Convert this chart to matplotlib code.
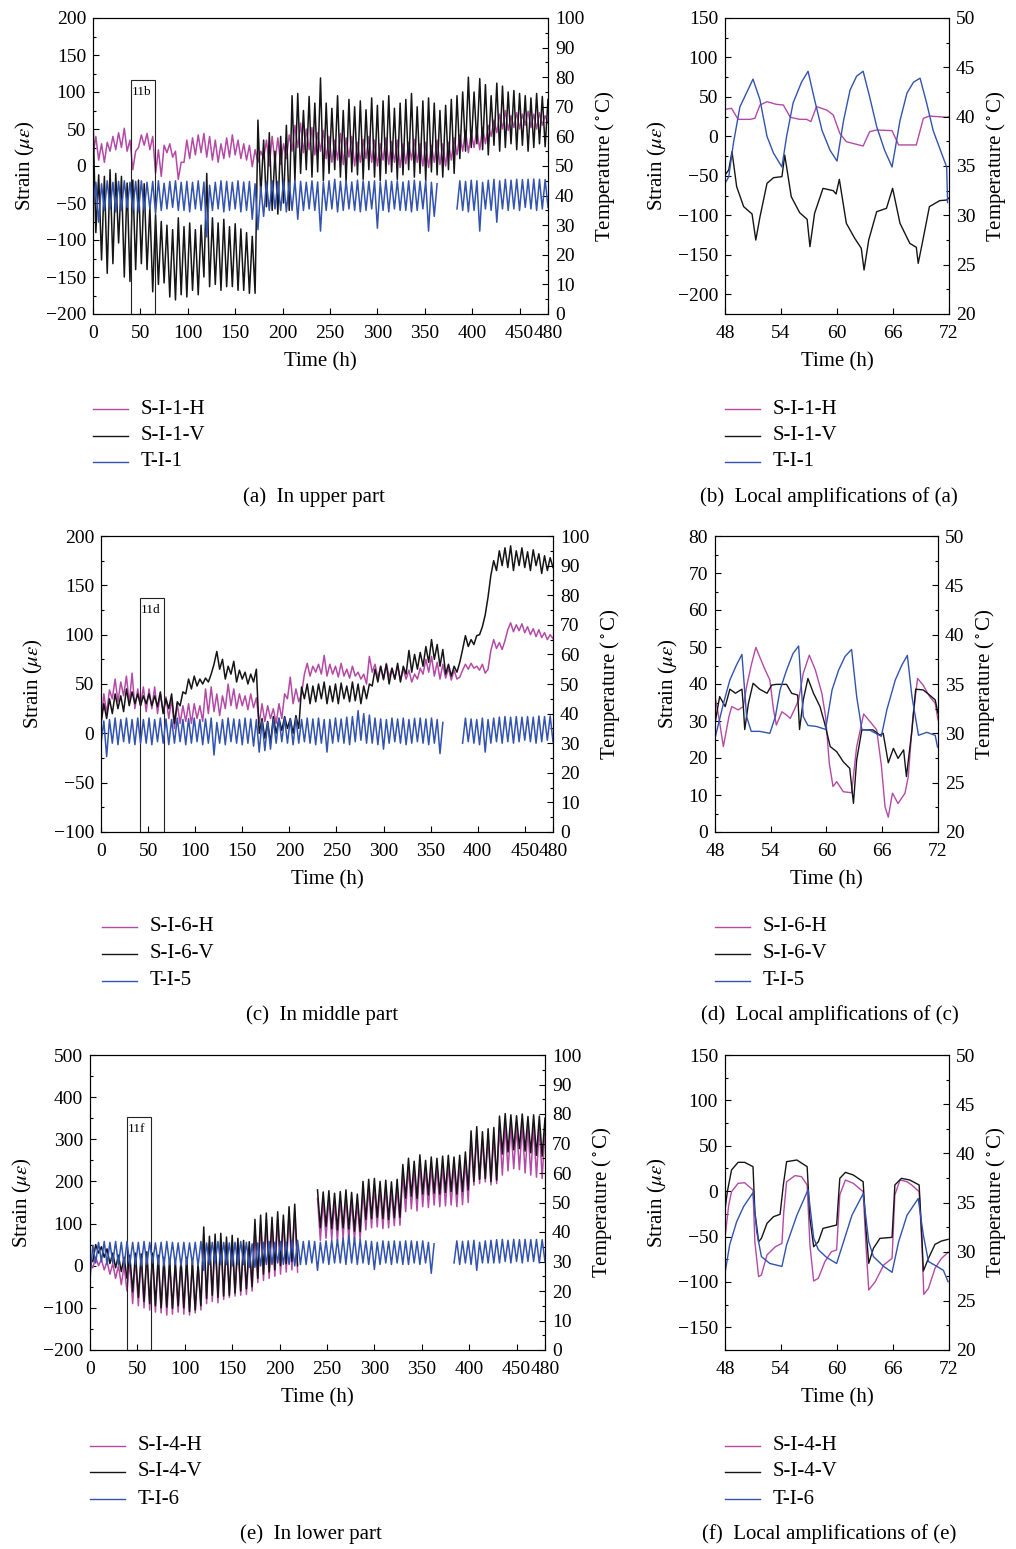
import numpy as np
import matplotlib
matplotlib.use('Agg')
import matplotlib.pyplot as plt
from matplotlib.lines import Line2D
from matplotlib.patches import Rectangle
from matplotlib.ticker import MultipleLocator

plt.rcParams['font.family'] = ['Liberation Serif', 'DejaVu Serif']
plt.rcParams['mathtext.fontset'] = 'stix'

nan = float('nan')

# ---------------- long records (0-480 h): per 6-h cycle values ----------------
# sampled every 3 h, alternating values inside each cycle
HOURS = np.arange(0, 481, 3)

# (a) upper part
A_T_LO = [36, 31, 35, 35.5, 34.5, 35, 36, 35,
          34.5, 35, 35.5, 34, 35, 35.5, 36, 35,
          35, 34.5, 35.5, 35, 26, 35, 35.5, 34.5,
          35, 35.5, 34.5, 35, 32, 28.5, 33, 35,
          35.5, 35, 34.5, 35, 32, 35, 35.5, 35,
          28, 35, 35.5, 34.5, 35, 35.5, 35, 34.5,
          35, 35.5, 29, 35, 34.5, 35.5, 35, 35,
          34.5, 35, 35.5, 28, 33, nan, nan, nan,
          35.5, 35, 34.5, 35, 28, 35.5, 35, 31,
          35.5, 35, 35.5, 35, 36, 35.5, 35, 35.5, 36]
A_T_HI = [44.5, 44, 45, 44.5, 44.8, 45, 44.5, 44.8,
          45, 44.5, 44.8, 45, 44.2, 44.8, 45, 44.5,
          44.8, 44.5, 45, 44.6, 43.5, 44.5, 45, 44.8,
          44.5, 45, 44.6, 44.8, 44, 43, 44.5, 45,
          44.8, 45, 44.5, 45.2, 44.8, 44.5, 45, 44.6,
          44.5, 45, 45.5, 44.8, 45, 44.6, 45.2, 45,
          44.8, 45, 44.5, 45.2, 44.8, 45, 44.6, 45,
          45.2, 44.8, 45, 44.5, 44, nan, nan, nan,
          45, 44.8, 45.2, 45, 44.5, 45.2, 45.5, 45,
          45.5, 45.2, 45.5, 45.4, 45.5, 45.6, 45.5, 45.4]
A_V_HI = [65, -12, -14, -5, -10, -14, -23, -19,
          -19, -24, -55, -66, -75, -80, -86, -70,
          -82, -77, -86, -80, -10, -70, -77, -72,
          -82, -78, -85, -90, -95, 62, 35, 45,
          20, 40, 55, 95, 98, 75, 94, 85,
          119, 85, 78, 95, 75, 90, 80, 88,
          76, 92, 82, 88, 95, 78, 85, 90,
          98, 80, 88, 92, 85, 75, 82, 90,
          95, 100, 120, 100, 118, 110, 95, 112,
          108, 100, 102, 98, 95, 92, 98, 94, 90]
A_V_LO = [-90, -127, -145, -132, -104, -150, -156, -140,
          -132, -140, -170, -160, -158, -177, -181, -174,
          -177, -168, -174, -150, -163, -160, -168, -163,
          -163, -168, -168, -172, -172, -40, -55, -60,
          -65, -50, -60, -20, -10, -5, -15, -8,
          -20, -10, -5, -15, -22, -8, -12, -18,
          -5, -15, -20, -10, -8, -18, -12, -5,
          -15, -10, -20, -8, -12, -15, -5, -10,
          10, 20, 25, 30, 22, 15, 28, 20,
          25, 30, 22, 28, 20, 25, 30, 26]
A_H_LO = [15, 8, 5, 20, 22, 25, 20, -5,
          25, 28, 22, -10, -14, 18, 12, -18,
          5, 10, 15, 18, 12, 8, 5, 10,
          12, 15, 10, 8, -1, 5, 10, 0,
          5, 2, 10, 20, 25, 18, 22, 15,
          20, 10, 5, 8, 2, 12, 0, 5,
          10, 5, 0, 8, 2, 5, -2, 3,
          8, 5, 0, -2, 5, 2, 0, 8,
          15, 20, 18, 25, 22, 30, 40, 45,
          50, 48, 52, 50, 55, 52, 50, 55, 58]
A_H_HI = [40, 30, 32, 40, 45, 51, 35, 20,
          42, 44, 40, 22, 28, 30, 20, 5,
          35, 38, 42, 44, 40, 35, 30, 38,
          42, 35, 30, 28, 22, 20, 35, 40,
          38, 30, 42, 55, 58, 50, 52, 45,
          48, 40, 35, 44, 38, 40, 32, 36,
          40, 35, 30, 38, 33, 35, 30, 32,
          36, 30, 32, 28, 35, 30, 32, 38,
          42, 48, 45, 50, 52, 55, 62, 70,
          75, 68, 72, 70, 74, 70, 72, 68]

# (c) middle part
C_T_LO = [30, 25.5, 30, 29.5, 30.5, 30, 29.5, 30,
          30, 29.5, 30.5, 30, 29.5, 30, 30.5, 29.5,
          30, 30.5, 29.5, 30, 26, 30, 29.5, 30.5,
          30, 29.5, 30, 29, 27, 27.5, 28, 30,
          30.5, 30, 29.5, 30, 30.5, 30, 29.5, 30,
          27, 30, 30.5, 30, 29.5, 30.5, 31, 30,
          30, 29.5, 28, 30, 30.5, 30, 29.5, 30,
          30.5, 30, 29.5, 30, 26.5, nan, nan, nan,
          30, 30.5, 30, 29.5, 27, 30, 30.5, 30,
          30.5, 30, 30.5, 31, 30.5, 30, 30.5, 31, 30.5]
C_T_HI = [37.5, 38, 38.5, 38, 38.5, 38, 38.5, 38,
          38.5, 38, 38.5, 38.2, 38, 38.5, 38, 38.3,
          38.5, 38, 38.2, 38.5, 37, 38, 38.5, 38.2,
          38, 38.5, 38.2, 38, 37.5, 37, 38, 38.5,
          38.5, 38.2, 38.5, 38, 38.5, 38.2, 38.5, 38,
          38, 38.5, 38.2, 38.8, 39, 41, 40, 39.5,
          38.5, 38.2, 38, 38.5, 38.2, 38.5, 38, 38.4,
          38.5, 38.2, 38.5, 38, 37, nan, nan, nan,
          38.5, 38.2, 38, 38.5, 38, 38.5, 38.8, 39,
          38.8, 39, 38.8, 39, 38.8, 39.2, 39, 39.2]
C_V_LO = [10, 15, 20, 25, 22, 28, 30, 28,
          30, 28, 27, 20, 25, 10, 28, 40,
          45, 48, 50, 52, 70, 65, 55, 60,
          52, 55, 50, 52, 0, -5, -10, 0,
          3, 5, 0, 5, 35, 30, 32, 35,
          30, 32, 30, 35, 32, 33, 30, 35,
          48, 52, 55, 50, 55, 52, 60, 62,
          65, 68, 72, 75, 68, 60, 58, 62,
          85, 88, 90, 100, 120, 160, 165, 170,
          168, 165, 170, 168, 165, 170, 162, 165, 168]
C_V_HI = [30, 35, 40, 38, 45, 42, 40, 38,
          40, 38, 42, 35, 40, 32, 42, 55,
          58, 55, 56, 60, 83, 75, 68, 73,
          64, 62, 60, 65, 15, 12, 17, 15,
          17, 15, 18, 47, 50, 48, 50, 52,
          48, 50, 51, 48, 52, 50, 48, 50,
          65, 68, 70, 66, 71, 68, 84, 80,
          82, 88, 95, 90, 85, 70, 68, 72,
          99, 95, 99, 108, 138, 175, 185, 188,
          190, 185, 188, 184, 186, 182, 180, 178]
C_H_LO = [10, 20, 35, 32, 38, 30, 25, 28,
          22, 25, 20, 22, 15, 5, 10, 12,
          10, 15, 12, 20, 22, 18, 25, 28,
          25, 28, 24, 26, 10, 12, 15, 10,
          15, 35, 30, 32, 60, 58, 62, 60,
          58, 60, 57, 58, 56, 58, 55, 50,
          62, 56, 54, 57, 55, 54, 55, 52,
          55, 60, 62, 58, 55, 56, 54, 55,
          64, 65, 66, 64, 61, 84, 86, 85,
          105, 103, 104, 102, 100, 98, 97, 95, 96]
C_H_HI = [40, 44, 55, 52, 58, 61, 45, 47,
          45, 47, 40, 37, 35, 30, 28, 30,
          30, 28, 45, 47, 40, 38, 50, 45,
          40, 38, 40, 36, 30, 28, 25, 30,
          40, 57, 45, 40, 71, 68, 70, 79,
          70, 68, 71, 65, 68, 62, 60, 78,
          70, 68, 71, 66, 68, 65, 64, 60,
          66, 75, 78, 72, 70, 66, 64, 57,
          70, 71, 68, 70, 65, 95, 92, 94,
          112, 110, 111, 108, 106, 105, 102, 100]

# (e) lower part
E_T_LO = [24, 29.5, 30, 29, 29.5, 29, 28.5, 29,
          29, 28.5, 29, 29.5, 29, 28.5, 29, 29,
          28.5, 29, 29, 28.5, 27, 29, 29.5, 29,
          29, 28.5, 29, 29, 28, 28, 28.5, 29,
          29, 29.5, 29, 29, 28.5, 29, 29, 29.5,
          27, 29.5, 29, 29.5, 29.5, 29, 29.5, 29,
          29.5, 29, 27.3, 29, 29.5, 29, 29.5, 29,
          29, 29.5, 29, 29.5, 26, nan, nan, nan,
          29.5, 29, 29.5, 29, 27, 29.5, 29.5, 29.5,
          29.5, 30, 29.5, 30, 29.5, 30, 30, 29.5, 30]
E_T_HI = [35.5, 36.5, 36.8, 36.5, 36.8, 36.5, 36.8, 36.5,
          36.5, 36.8, 36.5, 36.3, 36.5, 36.8, 36.5, 36.3,
          36.5, 36.3, 36.5, 36.8, 36.3, 36.5, 36.8, 36.5,
          36.3, 36.5, 36.8, 36.5, 36, 36.3, 36.5, 36.8,
          36.5, 36.8, 36.5, 37, 37.2, 36.8, 37, 36.8,
          36.5, 37, 37.2, 37.5, 38, 39, 38.2, 37.5,
          37, 36.8, 36.5, 37, 36.8, 37, 36.8, 37,
          37, 36.8, 37, 36.5, 36, nan, nan, nan,
          37, 36.8, 37, 37.2, 36.5, 37, 37.2, 37.4,
          37.5, 37.2, 37.5, 37.4, 37.5, 37.4, 37.5, 37.4]
E_V_HI = [17, 50, 45, 40, 30, 25, 20, 25,
          30, 28, 33, 30, 25, 20, 15, 10,
          15, 20, 10, 5, 92, 70, 75, 77,
          68, 72, 65, 60, 57, 110, 120, 125,
          115, 128, 120, 140, 146, nan, nan, nan,
          180, 175, 178, 172, 176, 180, 174, 170,
          200, 205, 207, 200, 203, 199, 205, 240,
          255, 248, 263, 250, 258, 255, 260, 262,
          258, 262, 270, 320, 330, 318, 325, 328,
          355, 361, 358, 356, 360, 354, 358, 355, 350]
E_V_LO = [10, 30, 20, 5, -5, -14, -30, -62,
          -75, -85, -90, -95, -100, -98, -101, -95,
          -100, -109, -105, -95, -78, -70, -75, -72,
          -70, -65, -60, -55, -50, -30, -20, -15,
          -10, 0, 5, 10, 0, nan, nan, nan,
          90, 93, 88, 85, 90, 87, 82, 81,
          110, 112, 115, 112, 110, 114, 115, 160,
          165, 160, 170, 168, 172, 170, 174, 176,
          170, 176, 180, 200, 205, 207, 200, 203,
          265, 270, 275, 278, 272, 268, 262, 260]
E_H_HI = [5, 20, 15, 10, 5, 0, 0, 10,
          20, 18, 25, 20, 15, 12, 8, 5,
          10, 12, 5, 0, 75, 55, 60, 62,
          55, 58, 50, 48, 45, 90, 100, 108,
          100, 110, 105, 120, 130, nan, nan, nan,
          160, 155, 160, 152, 158, 162, 155, 150,
          180, 185, 188, 182, 185, 180, 186, 220,
          235, 228, 243, 232, 238, 235, 240, 242,
          238, 242, 250, 300, 310, 300, 305, 308,
          330, 335, 332, 330, 335, 328, 332, 330, 325]
E_H_LO = [-5, 0, -10, -20, -30, -45, -60, -90,
          -95, -100, -105, -110, -112, -117, -115, -110,
          -115, -117, -112, -105, -90, -85, -88, -80,
          -75, -72, -70, -68, -60, -40, -35, -30,
          -25, -20, -15, -10, -15, nan, nan, nan,
          60, 65, 62, 58, 65, 62, 60, 61,
          85, 90, 92, 88, 90, 95, 96, 128,
          135, 130, 140, 138, 144, 140, 142, 144,
          140, 145, 150, 191, 195, 199, 192, 195,
          215, 225, 230, 228, 220, 215, 210, 207]

# ---------------- local amplifications (48-72 h) ----------------
B_T_T = [48.1, 48.4, 48.9, 49.6, 50.3, 51.0, 51.75, 52.5, 53.2, 54.1, 54.6, 55.3,
         56.2, 56.9, 57.6, 58.4, 59.25, 60.0, 60.7, 61.4, 62.1, 62.8, 63.5, 64.25,
         65.1, 65.9, 66.75, 67.5, 68.2, 68.9, 69.6, 70.3, 71.2, 71.75, 71.85]
B_T_V = [33.4, 33.9, 37.3, 41.0, 42.4, 43.8, 41.7, 38.0, 36.3, 34.9, 38.0, 41.4,
         43.5, 44.6, 41.7, 38.6, 36.6, 35.5, 39.6, 42.7, 44.1, 44.6, 42.0, 39.0,
         36.6, 34.9, 39.6, 42.4, 43.5, 43.9, 41.4, 38.6, 36.3, 34.9, 31.3]
B_H_T = [48.0, 48.7, 49.4, 50.7, 51.2, 51.75, 52.5, 53.5, 54.25, 55.0, 56.0, 56.75,
         57.2, 57.8, 58.9, 59.6, 60.3, 61.0, 62.8, 63.5, 64.25, 65.9, 66.6, 68.5,
         69.25, 69.9, 71.75, 72.0]
B_H_V = [34.3, 35.6, 21.6, 21.6, 22.9, 39.8, 44.0, 40.6, 39.8, 24.2, 21.6, 21.6,
         18.7, 37.7, 33.4, 27.1, 3.9, -6.7, -12.2, 6.0, 8.1, 7.3, -10.8, -10.8,
         22.9, 25.8, 24.2, 25.0]
B_V_T = [48.0, 48.4, 48.75, 49.25, 50.0, 50.9, 51.3, 51.75, 52.5, 53.2, 54.1, 54.4,
         55.1, 56.0, 56.8, 57.1, 57.6, 58.5, 59.6, 59.9, 60.25, 61.0, 61.9, 62.6,
         62.9, 63.4, 64.25, 65.3, 65.96, 66.75, 67.8, 68.5, 68.7, 69.1, 69.9, 71.0,
         71.75, 72.0]
B_V_V = [-48.9, -42.6, -19.3, -63.7, -89.0, -98.3, -131.3, -101.7, -59.5, -52.3, -51.0, -23.6,
         -76.4, -96.6, -105.1, -139.7, -97.4, -65.8, -68.8, -73.0, -54.4, -110.1, -129.1, -141.8,
         -169.3, -131.2, -95.4, -91.1, -65.8, -110.1, -135.5, -140.5, -160.8, -137.5, -89.0, -81.4,
         -80.6, -78.0]

D_T_T = [48.0, 48.9, 49.6, 50.3, 50.9, 51.4, 51.9, 52.8, 53.9, 54.5, 55.0, 55.7,
         56.4, 57.0, 57.5, 58.0, 58.9, 59.9, 60.6, 61.3, 62.0, 62.7, 63.25, 63.8,
         64.7, 65.9, 66.5, 67.4, 68.1, 68.7, 69.2, 69.9, 70.8, 71.7, 71.95]
D_T_V = [29.5, 33.0, 35.4, 36.9, 38.0, 31.7, 30.2, 30.2, 30.0, 31.7, 34.4, 36.4,
         38.1, 38.85, 31.7, 30.8, 30.7, 30.4, 34.4, 36.4, 37.8, 38.5, 33.7, 30.4,
         30.3, 29.7, 32.4, 35.4, 36.9, 37.9, 33.7, 29.8, 30.1, 29.8, 28.6]
D_H_T = [48.0, 48.4, 48.9, 49.5, 49.8, 50.5, 51.05, 51.4, 51.9, 52.4, 52.8, 53.4,
         53.9, 54.3, 54.6, 55.2, 55.7, 56.1, 56.6, 57.0, 57.5, 58.15, 58.8, 59.5,
         59.9, 60.3, 60.7, 61.1, 61.8, 62.7, 63.25, 64.0, 64.7, 65.4, 65.9, 66.3,
         66.65, 67.1, 67.7, 68.45, 68.8, 69.3, 69.8, 70.4, 71.1, 71.7, 72.0]
D_H_V = [36.6, 31.2, 23.1, 31.2, 33.9, 33.0, 33.9, 39.3, 45.1, 49.9, 47.4, 43.8,
         41.1, 33.0, 28.9, 32.5, 31.6, 30.7, 33.4, 35.7, 42.9, 47.8, 43.8, 37.5,
         31.2, 18.6, 12.3, 13.6, 10.9, 10.6, 23.1, 31.9, 29.8, 27.6, 18.1, 6.8,
         4.0, 10.5, 7.7, 10.5, 15.0, 31.2, 41.5, 39.7, 36.6, 34.8, 30.3]
D_V_T = [48.0, 48.5, 49.1, 49.6, 50.2, 50.9, 51.05, 51.2, 51.6, 52.1, 52.8, 53.6,
         54.1, 54.6, 55.7, 56.25, 56.9, 57.1, 57.5, 58.0, 58.6, 59.3, 59.8, 60.4,
         61.1, 61.8, 62.5, 62.9, 63.25, 63.8, 65.0, 65.75, 66.1, 66.65, 67.2, 67.7,
         68.3, 68.6, 69.2, 69.6, 70.4, 71.1, 71.7, 72.0]
D_V_V = [29.4, 36.6, 33.9, 38.6, 37.5, 38.6, 33.9, 27.7, 34.8, 40.2, 38.6, 37.5,
         39.7, 39.9, 39.9, 37.5, 37.0, 27.7, 35.7, 41.5, 37.5, 33.9, 29.4, 23.1,
         21.7, 19.0, 17.2, 7.75, 19.5, 27.6, 27.6, 26.2, 26.7, 18.7, 22.6, 19.9,
         22.2, 15.0, 27.6, 38.6, 38.4, 37.0, 35.7, 32.1]

F_T_T = [48.0, 48.5, 49.25, 50.0, 51.0, 51.4, 51.9, 52.8, 54.1, 54.6, 55.7, 56.9,
         57.5, 58.0, 58.9, 59.96, 60.7, 61.6, 62.8, 63.4, 63.9, 65.0, 65.9, 66.6,
         67.5, 68.7, 69.25, 69.8, 70.7, 71.4, 71.9]
F_T_V = [27.8, 30.7, 33.05, 34.6, 36.0, 32.0, 29.5, 28.8, 28.5, 30.7, 33.7, 36.3,
         31.4, 30.2, 29.4, 28.8, 31.0, 33.7, 35.9, 31.0, 29.5, 28.5, 27.9, 31.0,
         33.7, 35.4, 31.7, 29.0, 28.5, 28.1, 26.95]
F_H_T = [48.0, 48.4, 48.7, 49.4, 50.1, 51.0, 51.2, 51.6, 51.9, 52.5, 53.4, 54.1,
         54.3, 54.6, 55.5, 56.2, 56.8, 57.1, 57.5, 58.0, 58.7, 59.4, 59.96, 60.3,
         60.9, 61.75, 62.8, 63.1, 63.4, 64.1, 65.0, 65.9, 66.2, 66.75, 67.5, 68.0,
         68.8, 69.1, 69.3, 69.8, 70.5, 71.2, 71.9]
F_H_V = [-51.2, -15.3, -0.6, 8.6, 9.3, 1.3, -55.7, -94.2, -92.4, -70.3, -61.2, -57.5,
         -22.6, 10.4, 17.1, 16.0, 6.8, -59.3, -99.0, -96.0, -77.7, -66.7, -64.8, -4.1,
         12.3, 8.6, -0.6, -59.3, -108.9, -99.7, -81.4, -74.0, -4.1, 12.3, 10.4, 6.8,
         -0.6, -59.3, -113.7, -107.1, -85.0, -74.0, -67.4]
F_V_T = [48.0, 48.25, 48.7, 49.4, 50.1, 51.0, 51.2, 51.6, 51.9, 52.5, 53.2, 53.9,
         54.25, 54.6, 55.7, 56.8, 57.1, 57.5, 58.0, 58.5, 59.25, 59.96, 60.3, 60.9,
         61.75, 62.8, 63.1, 63.4, 63.9, 64.6, 65.9, 66.2, 66.9, 67.8, 68.8, 69.1,
         69.25, 69.8, 70.5, 71.2, 71.9]
F_V_V = [-20.8, -0.6, 23.3, 31.75, 31.75, 27.0, -22.6, -55.7, -52.0, -35.5, -28.1, -25.5,
         6.8, 32.5, 34.3, 27.0, -30.0, -61.2, -55.7, -41.0, -39.1, -37.3, 14.1, 20.7,
         17.8, 10.4, -41.0, -79.5, -63.0, -52.0, -50.9, 6.8, 14.1, 12.3, 6.8, -52.0,
         -88.0, -74.0, -58.6, -54.9, -53.1]

# labels
LEG_A = ['S-I-1-H', 'S-I-1-V', 'T-I-1']
LEG_C = ['S-I-6-H', 'S-I-6-V', 'T-I-5']
LEG_E = ['S-I-4-H', 'S-I-4-V', 'T-I-6']
CAPTIONS = ['(a)  In upper part', '(b)  Local amplifications of (a)',
            '(c)  In middle part', '(d)  Local amplifications of (c)',
            '(e)  In lower part', '(f)  Local amplifications of (e)']
BIG_XTICKS = [0, 50, 100, 150, 200, 250, 300, 350, 400, 450, 480]
SMALL_XTICKS = [48, 54, 60, 66, 72]
# window boxes: (x0, x1, top), label
BOX_A = (40, 65, 116, '11b')
BOX_C = (41.4, 66.9, 137, '11d')
BOX_E = (39, 64.3, 353, '11f')

C_MAG = '#B54AA6'
C_BLK = '#151515'
C_BLU = '#3353B0'
FS = 15
FS_TICK = 14

W, H = 1016, 1549
fig = plt.figure(figsize=(W / 100, H / 100), dpi=100)


def interleave(first, second):
    out = []
    for a, b in zip(first, second):
        out.extend([a, b])
    out.append(first[len(second)])
    return np.array(out, dtype=float)


def make_axes(px, xlim, xticks, slim, s_maj, s_min, tlim, t_maj, t_min):
    l, r, t, b = px
    ax = fig.add_axes([l / W, 1 - b / H, (r - l) / W, (b - t) / H])
    ax2 = ax.twinx()
    ax.set_xlim(*xlim)
    ax.set_xticks(xticks)
    ax.set_ylim(*slim)
    ax.yaxis.set_major_locator(MultipleLocator(s_maj))
    ax.yaxis.set_minor_locator(MultipleLocator(s_min))
    ax2.set_ylim(*tlim)
    ax2.yaxis.set_major_locator(MultipleLocator(t_maj))
    ax2.yaxis.set_minor_locator(MultipleLocator(t_min))
    ax.tick_params(axis='both', which='both', direction='in', top=False, right=False)
    ax.tick_params(which='major', length=4, width=0.8, labelsize=FS_TICK, pad=5)
    ax.tick_params(which='minor', length=2.5, width=0.8)
    ax.tick_params(axis='x', pad=8)
    ax2.tick_params(axis='y', which='both', direction='in', right=True, left=False)
    ax2.tick_params(which='major', length=4, width=0.8, labelsize=FS_TICK, pad=5)
    ax2.tick_params(which='minor', length=2.5, width=0.8)
    for a in (ax, ax2):
        for s in a.spines.values():
            s.set_linewidth(0.8)
    ax.set_xlabel('Time (h)', fontsize=FS, labelpad=7)
    ax.set_ylabel(r'Strain ($\mu\varepsilon$)', fontsize=FS, labelpad=6)
    ax2.set_ylabel(r'Temperature ($^\circ$C)', fontsize=FS, labelpad=6)
    return ax, ax2


def legend(x0, ys, labels):
    cols = [C_MAG, C_BLK, C_BLU]
    for y, lab, c in zip(ys, labels, cols):
        fig.add_artist(Line2D([x0 / W, (x0 + 35) / W], [1 - y / H, 1 - y / H],
                              color=c, lw=1.0, transform=fig.transFigure))
        fig.text((x0 + 48) / W, 1 - y / H, lab, fontsize=FS, ha='left', va='center')


def box(ax, spec, ybottom):
    x0, x1, top, lab = spec
    ax.add_patch(Rectangle((x0, ybottom), x1 - x0, top - ybottom, fill=False,
                           lw=0.8, ec='#222222', zorder=5, clip_on=False))
    ax.text(x0 + 0.8, top - (top - ybottom) * 0.025, lab, fontsize=9.5,
            ha='left', va='top', zorder=6)


LW_BIG = 1.1
LW_SMALL = 1.0

# (a)
ax, ax2 = make_axes((93, 548, 18, 314), (0, 480), BIG_XTICKS, (-200, 200), 50, 25,
                    (0, 100), 10, 5)
ax.plot(HOURS, interleave(A_H_LO, A_H_HI), color=C_MAG, lw=LW_BIG)
ax.plot(HOURS, interleave(A_V_HI, A_V_LO), color=C_BLK, lw=LW_BIG)
ax2.plot(HOURS, interleave(A_T_LO, A_T_HI), color=C_BLU, lw=LW_BIG)
box(ax, BOX_A, -200)

# (b)
ax, ax2 = make_axes((725, 949, 18, 314), (48, 72), SMALL_XTICKS, (-225, 150), 50, 25,
                    (20, 50), 5, 2.5)
ax.plot(B_H_T, B_H_V, color=C_MAG, lw=LW_SMALL)
ax.plot(B_V_T, B_V_V, color=C_BLK, lw=LW_SMALL)
ax2.plot(B_T_T, B_T_V, color=C_BLU, lw=LW_SMALL)

# (c)
ax, ax2 = make_axes((101, 553, 536, 832), (0, 480), BIG_XTICKS, (-100, 200), 50, 25,
                    (0, 100), 10, 5)
ax.plot(HOURS, interleave(C_H_LO, C_H_HI), color=C_MAG, lw=LW_BIG)
ax.plot(HOURS, interleave(C_V_LO, C_V_HI), color=C_BLK, lw=LW_BIG)
ax2.plot(HOURS, interleave(C_T_LO, C_T_HI), color=C_BLU, lw=LW_BIG)
box(ax, BOX_C, -100)

# (d)
ax, ax2 = make_axes((715, 938, 536, 832), (48, 72), SMALL_XTICKS, (0, 80), 10, 5,
                    (20, 50), 5, 2.5)
ax.plot(D_H_T, D_H_V, color=C_MAG, lw=LW_SMALL)
ax.plot(D_V_T, D_V_V, color=C_BLK, lw=LW_SMALL)
ax2.plot(D_T_T, D_T_V, color=C_BLU, lw=LW_SMALL)

# (e)
ax, ax2 = make_axes((90, 545, 1055, 1350), (0, 480), BIG_XTICKS, (-200, 500), 100, 50,
                    (0, 100), 10, 5)
ax.plot(HOURS, interleave(E_H_HI, E_H_LO), color=C_MAG, lw=LW_BIG)
ax.plot(HOURS, interleave(E_V_HI, E_V_LO), color=C_BLK, lw=LW_BIG)
ax2.plot(HOURS, interleave(E_T_LO, E_T_HI), color=C_BLU, lw=LW_BIG)
box(ax, BOX_E, -200)

# (f)
ax, ax2 = make_axes((725, 949, 1055, 1350), (48, 72), SMALL_XTICKS, (-175, 150), 50, 25,
                    (20, 50), 5, 2.5)
ax.plot(F_H_T, F_H_V, color=C_MAG, lw=LW_SMALL)
ax.plot(F_V_T, F_V_V, color=C_BLK, lw=LW_SMALL)
ax2.plot(F_T_T, F_T_V, color=C_BLU, lw=LW_SMALL)

# legends
legend(93, [409, 436, 462], LEG_A)
legend(725, [409, 436, 462], LEG_A)
legend(102, [927, 954, 981], LEG_C)
legend(715, [927, 954, 981], LEG_C)
legend(90, [1446, 1472, 1499], LEG_E)
legend(725, [1446, 1472, 1499], LEG_E)

# captions
for (cx, cy), cap in zip([(314, 497), (829, 497), (322, 1015), (830, 1015),
                          (311, 1534), (829, 1534)], CAPTIONS):
    fig.text(cx / W, 1 - cy / H, cap, fontsize=FS, ha='center', va='center')

fig.savefig('out.png', dpi=100)
